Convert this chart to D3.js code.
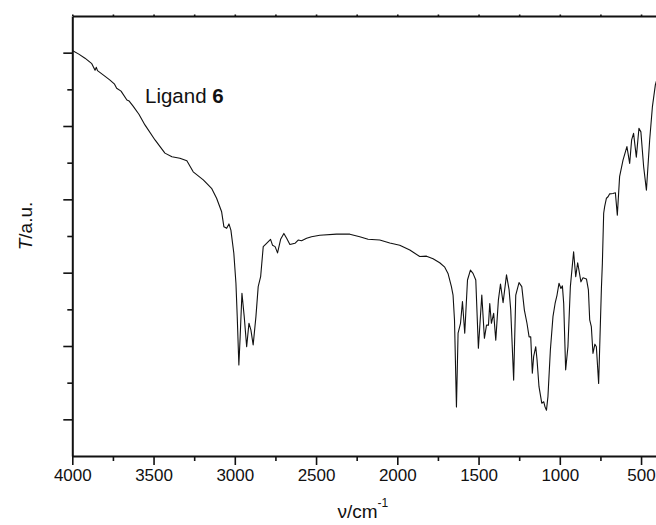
<!DOCTYPE html>
<html>
<head>
<meta charset="utf-8">
<script src="https://cdn.jsdelivr.net/npm/d3@7"></script>
<style>
  body { margin: 0; background: #fff; }
  svg { display: block; font-family: "Liberation Sans", Arial, sans-serif; }
</style>
</head>
<body>
<svg id="chart" width="656" height="525"></svg>
<script>
// IR spectrum, wavenumber (cm-1) vs transmittance (a.u.)
const wavenumbers = [4000, 3960, 3922, 3880, 3860, 3852, 3845, 3800, 3768, 3740, 3727, 3700, 3664, 3650, 3627,
  3590, 3553, 3491, 3430, 3387, 3338, 3295, 3256,
  3194, 3143, 3112, 3081, 3067, 3050, 3036, 3024, 3006, 2993, 2985, 2975, 2967, 2956, 2942, 2927,
  2913, 2901, 2887, 2870, 2856, 2841, 2825, 2809, 2780, 2768, 2752, 2737, 2718, 2698, 2681, 2661,
  2630, 2610, 2589, 2558, 2528, 2477, 2374, 2292, 2231, 2180, 2108, 2046, 1985, 1923, 1862, 1820,
  1780, 1739, 1708, 1688, 1667, 1657, 1648, 1636, 1626, 1611, 1599, 1585, 1568, 1550, 1534, 1517,
  1501, 1480, 1464, 1451, 1439, 1431, 1421, 1407, 1394, 1378, 1365, 1349, 1328, 1312, 1302, 1284,
  1271, 1251, 1234, 1218, 1202, 1189, 1179, 1169, 1161, 1148, 1140, 1128, 1111, 1099, 1091, 1082,
  1073, 1058, 1042, 1029, 1017, 1005, 993, 984, 976, 964, 950, 935, 915, 902, 890, 870, 857, 836,
  824, 816, 806, 796, 784, 775, 761, 744, 738, 730, 724, 713, 703, 693, 673, 658, 646, 632, 611,
  587, 570, 558, 546, 529, 513, 501, 484, 467, 447, 430, 412, 404];
const transmittance = [110.6, 109.6, 108.5, 107.0, 105.2, 106.0, 105.1, 103.6, 102.5, 101.4, 100.3, 99.5, 97.1, 96.8, 95.5,
  93.2, 90.3, 86.2, 82.6, 81.6, 81.2, 80.5, 77.5,
  75.3, 73.0, 70.3, 66.6, 62.5, 62.1, 63.3, 61.6, 55.3, 47.1, 38.0, 24.8, 32.5, 44.4, 38.0, 29.8,
  36.2, 34.4, 30.3, 38.0, 46.2, 48.9, 57.1, 57.8, 59.1, 57.5, 57.1, 55.4, 59.1, 60.7, 59.4, 57.7,
  58.0, 58.9, 58.7, 59.4, 59.8, 60.2, 60.5, 60.5, 59.8, 59.1, 58.9, 58.1, 57.5, 56.2, 54.4, 54.5,
  53.8, 52.7, 51.5, 49.8, 46.2, 43.9, 37.1, 13.4, 33.5, 36.2, 42.1, 33.5, 48.0, 50.7, 49.8, 48.0,
  29.4, 43.9, 32.1, 35.7, 35.7, 41.6, 36.2, 38.9, 31.6, 42.5, 46.9, 41.8, 49.4, 45.3, 39.8, 20.7,
  43.9, 47.3, 46.2, 39.8, 36.2, 32.5, 32.5, 22.6, 27.1, 29.8, 26.2, 18.9, 14.4, 14.8, 13.4, 12.5,
  16.2, 28.9, 38.0, 41.6, 43.9, 47.1, 45.7, 46.4, 41.6, 23.5, 29.8, 46.2, 55.7, 48.9, 52.7, 47.5, 48.6, 48.3,
  45.3, 37.1, 35.3, 28.0, 30.5, 29.8, 19.8, 45.7, 52.6, 66.2, 68.0, 70.3, 70.7, 71.5, 71.6, 71.8, 65.7, 76.2, 80.7,
  84.4, 79.8, 86.2, 88.0, 81.5, 89.4, 88.4, 78.9, 72.5, 86.2, 95.3, 101.2, 102.5];

const xMajorTicks = [4000, 3500, 3000, 2500, 2000, 1500, 1000, 500];
const xMinorTicks = [3750, 3250, 2750, 2250, 1750, 1250, 750];
const yMajorTicks = [10, 30, 50, 70, 90, 110];
const yMinorTicks = [20, 40, 60, 80, 100];

const spectrum = wavenumbers.map((w, i) => ({ w: w, t: transmittance[i] }));

const svg = d3.select("#chart");
const plotLeft = 72.3, plotRight = 657.3, plotTop = 16, plotBottom = 456;

const x = d3.scaleLinear().domain([4000, 400]).range([plotLeft, plotRight]);
const y = d3.scaleLinear().domain([0, 120]).range([plotBottom, plotTop]);

// spectrum line
svg.append("path")
    .datum(spectrum)
    .attr("fill", "none")
    .attr("stroke", "#111")
    .attr("stroke-width", 1.1)
    .attr("stroke-linejoin", "round")
    .attr("d", d3.line().x(d => x(d.w)).y(d => y(d.t)));

// bottom axis
const xAxis = svg.append("g").attr("transform", `translate(0,${plotBottom})`);
xAxis.call(d3.axisBottom(x).tickValues(xMajorTicks).tickFormat(d3.format("d"))
    .tickSize(9).tickSizeOuter(0).tickPadding(4))
xAxis.append("g")
    .call(d3.axisBottom(x).tickValues(xMinorTicks).tickSize(5).tickSizeOuter(0).tickFormat(""))
    .select(".domain").remove();

// left axis
const yAxis = svg.append("g").attr("transform", `translate(${plotLeft},0)`);
yAxis.call(d3.axisLeft(y).tickValues(yMajorTicks).tickSize(9).tickSizeOuter(0).tickFormat(""));
yAxis.append("g")
    .call(d3.axisLeft(y).tickValues(yMinorTicks).tickSize(5).tickSizeOuter(0).tickFormat(""))
    .select(".domain").remove();

// top axis, tiny ticks
const topAxis = svg.append("g").attr("transform", `translate(0,${plotTop})`);
topAxis.call(d3.axisTop(x).tickValues(xMajorTicks.concat(xMinorTicks)).tickSize(1.5).tickSizeOuter(0).tickFormat(""));

svg.selectAll(".domain").attr("stroke", "#111").attr("stroke-width", 2);
svg.selectAll(".tick line").attr("stroke", "#111").attr("stroke-width", 1.6);
svg.selectAll(".tick text")
    .attr("fill", "#111")
    .style("font-family", "'Liberation Sans', Arial, sans-serif")
    .style("font-size", "17px");

// axis titles
const xTitle = svg.append("text")
    .attr("x", (plotLeft + plotRight) / 2 - 2)
    .attr("y", 518)
    .attr("text-anchor", "middle")
    .style("font-size", "19px")
    .attr("fill", "#111");
xTitle.append("tspan").text("ν/cm");
xTitle.append("tspan").attr("dy", -11).style("font-size", "12px").text("-1");

svg.append("text")
    .attr("transform", "translate(32,226) rotate(-90)")
    .attr("text-anchor", "middle")
    .style("font-size", "19px")
    .attr("fill", "#111")
    .html('<tspan font-style="italic">T</tspan>/a.u.');

// annotation
const label = svg.append("text")
    .attr("x", 145)
    .attr("y", 103)
    .style("font-size", "20.5px")
    .attr("fill", "#111");
label.append("tspan").text("Ligand ");
label.append("tspan").attr("font-weight", "bold").text("6");
</script>
</body>
</html>
